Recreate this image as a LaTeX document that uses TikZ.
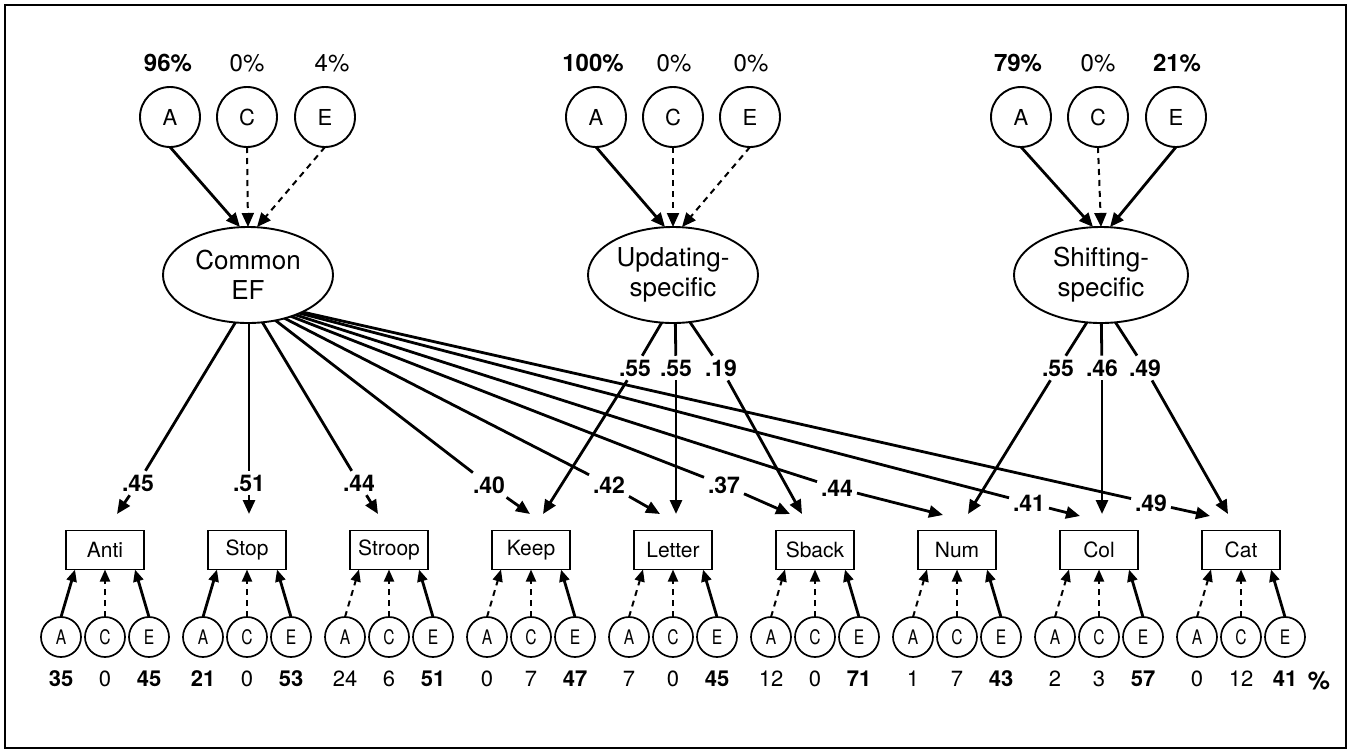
\documentclass[tikz,border=0pt]{standalone}
\usepackage{fontspec}
\setmainfont{TeX Gyre Heros}
\newfontfamily\cndfont[FakeStretch=0.78]{TeX Gyre Heros}
\usetikzlibrary{arrows.meta,shapes.geometric,calc,backgrounds}

\begin{document}
\begin{tikzpicture}[x=1pt,y=-1pt,
  every node/.style={inner sep=0pt, outer sep=0pt},
  topc/.style={circle, draw, line width=1.9pt, minimum size=60pt,
    font=\fontsize{22}{22}\selectfont},
  latent/.style={ellipse, draw, line width=1.9pt, fill=white,
    minimum width=170pt, minimum height=96pt, inner sep=1pt, align=center,
    font=\fontsize{26}{30}\selectfont},
  taskbox/.style={rectangle, draw, line width=1.9pt, minimum width=78pt,
    minimum height=39pt, font=\fontsize{21}{21}\selectfont},
  acec/.style={circle, draw, line width=1.7pt, minimum size=40pt,
    font=\cndfont\fontsize{20}{20}\selectfont},
  pct/.style={font=\fontsize{24}{24}\selectfont},
  bpct/.style={font=\fontsize{24}{24}\selectfont\bfseries},
  num/.style={font=\fontsize{22}{22}\selectfont},
  load/.style={font=\fontsize{23}{23}\selectfont\bfseries, inner sep=4pt},
  sol/.style={line width=2.8pt},
  das/.style={line width=2pt, dash pattern=on 6pt off 5pt},
  tipbig/.style={-{Triangle[length=14pt,width=12pt]}},
  tipsmall/.style={-{Triangle[length=12pt,width=10pt]}},
]
\useasboundingbox (0,0) rectangle (1351,750);
\draw[line width=2pt] (5,5) rectangle (1346,747.5);

% ---------- latent factors ----------
\node[latent] (cef) at (248,275) {Common\\EF};
\node[latent] (upd) at (673,275) {Updating-\\specific};
\node[latent, minimum width=174pt] (shf) at (1101,275) {Shifting-\\specific};

\coordinate (cef-o) at (249,300);
\coordinate (upd-o) at (675,300);
\coordinate (shf-o) at (1101,300);

% ---------- A, C, E of the latent factors ----------
\node[topc] (cef-a) at (170,117) {A};
\node[topc] (cef-c) at (247,117) {C};
\node[topc] (cef-e) at (325,117) {E};
\node[topc] (upd-a) at (596,117) {A};
\node[topc] (upd-c) at (673,117) {C};
\node[topc] (upd-e) at (750,117) {E};
\node[topc] (shf-a) at (1021,117) {A};
\node[topc] (shf-c) at (1098,117) {C};
\node[topc] (shf-e) at (1176,117) {E};

\node[bpct] (p-cef-a) at (168,63) {96\%};
\node[pct]  (p-cef-c) at (247,63) {0\%};
\node[pct]  (p-cef-e) at (332,63) {4\%};
\node[bpct] (p-upd-a) at (593,63) {100\%};
\node[pct]  (p-upd-c) at (674,63) {0\%};
\node[pct]  (p-upd-e) at (751,63) {0\%};
\node[bpct] (p-shf-a) at (1018,63) {79\%};
\node[pct]  (p-shf-c) at (1098,63) {0\%};
\node[bpct] (p-shf-e) at (1177,63) {21\%};

\draw[sol, tipbig] (cef-a.south) -- ($(cef.north)+(-8,0)$);
\draw[das, tipbig] (cef-c.south) -- ($(cef.north)+(0,0)$);
\draw[das, tipbig] (cef-e.south) -- ($(cef.north)+(9,0)$);
\draw[sol, tipbig] (upd-a.south) -- ($(upd.north)+(-8,0)$);
\draw[das, tipbig] (upd-c.south) -- ($(upd.north)+(0,0)$);
\draw[das, tipbig] (upd-e.south) -- ($(upd.north)+(9,0)$);
\draw[sol, tipbig] (shf-a.south) -- ($(shf.north)+(-8,0)$);
\draw[das, tipbig] (shf-c.south) -- ($(shf.north)+(0,0)$);
\draw[sol, tipbig] (shf-e.south) -- ($(shf.north)+(9,0)$);

% ---------- tasks with their own A, C, E ----------
\foreach \nm/\lab/\i/\sa/\sc/\se/\na/\nc/\ne in {
  anti/Anti/0/sol/das/sol/\textbf{35}/0/\textbf{45},
  stop/Stop/1/sol/das/sol/\textbf{21}/0/\textbf{53},
  stroop/Stroop/2/das/das/sol/24/6/\textbf{51},
  keep/Keep/3/das/das/sol/0/7/\textbf{47},
  letter/Letter/4/das/das/sol/7/0/\textbf{45},
  sback/Sback/5/das/das/sol/12/0/\textbf{71},
  num/Num/6/das/das/sol/1/7/\textbf{43},
  col/Col/7/das/das/sol/2/3/\textbf{57},
  cat/Cat/8/das/das/sol/0/12/\textbf{41}}
{
  \pgfmathsetmacro\xx{105+142*\i}
  \node[taskbox] (\nm) at (\xx,550) {\lab};
  \node[acec] (\nm-a) at (\xx-44,637) {A};
  \node[acec] (\nm-c) at (\xx,637) {C};
  \node[acec] (\nm-e) at (\xx+44,637) {E};
  \draw[\sa, tipsmall] (\nm-a.north) -- ($(\nm.south)+(-30,0)$);
  \draw[\sc, tipsmall] (\nm-c.north) -- (\nm.south);
  \draw[\se, tipsmall] (\nm-e.north) -- ($(\nm.south)+(30,0)$);
  \node[num] (\nm-na) at (\xx-44,679) {\na};
  \node[num] (\nm-nc) at (\xx,679) {\nc};
  \node[num] (\nm-ne) at (\xx+44,679) {\ne};
}
\node[font=\fontsize{25}{25}\selectfont\bfseries] (pctsign) at (1319,681) {\%};

% ---------- loading labels ----------
\node[load] (l-anti)   at (138,483) {.45};
\node[load] (l-stop)   at (249,483) {.51};
\node[load] (l-stroop) at (359,483) {.44};
\node[load] (l-keep)   at (489,485) {.40};
\node[load] (l-letter) at (609,485) {.42};
\node[load] (l-sback)  at (724,485) {.37};
\node[load] (l-num)    at (837,488) {.44};
\node[load] (l-col)    at (1029,503) {.41};
\node[load] (l-cat)    at (1151,503) {.49};

\node[load] (u-keep)   at (635,368) {.55};
\node[load] (u-letter) at (676,368) {.55};
\node[load] (u-sback)  at (721,368) {.19};

\node[load] (s-num)    at (1058,368) {.55};
\node[load] (s-col)    at (1102,368) {.46};
\node[load] (s-cat)    at (1145,368) {.49};

% arrow tips just above the task boxes
\coordinate (t-anti)   at (117,514);
\coordinate (t-stop)   at (249,514);
\coordinate (t-stroop) at (378,514);
\coordinate (t-keep)   at (530,514);
\coordinate (t-letter) at (660,514);
\coordinate (t-sback)  at (790,514);
\coordinate (t-num)    at (943,515);
\coordinate (t-col)    at (1080,516);
\coordinate (t-cat)    at (1210,516);
\coordinate (tu-keep)   at (543,514);
\coordinate (tu-letter) at (676,514);
\coordinate (tu-sback)  at (802,514);
\coordinate (ts-num)    at (968,514);
\coordinate (ts-col)    at (1102,514);
\coordinate (ts-cat)    at (1228,514);

% ---------- loadings ----------
\begin{pgfonlayer}{background}
  \foreach \t in {anti,stop,stroop,keep,letter,sback,num,col,cat}
    \draw[sol] (cef-o) -- (l-\t);
  \foreach \t in {keep,letter,sback}
    \draw[sol] (upd-o) -- (u-\t);
  \foreach \t in {num,col,cat}
    \draw[sol] (shf-o) -- (s-\t);
\end{pgfonlayer}
\foreach \t in {anti,stop,stroop,keep,letter,sback,num,col,cat}
  \draw[sol, tipbig] (l-\t) -- (t-\t);
\foreach \t in {keep,letter,sback}
  \draw[sol, tipbig] (u-\t) -- (tu-\t);
\foreach \t in {num,col,cat}
  \draw[sol, tipbig] (s-\t) -- (ts-\t);
\end{tikzpicture}
\end{document}
